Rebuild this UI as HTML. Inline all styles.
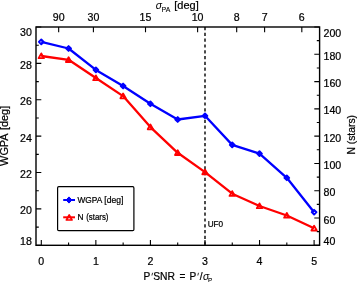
<!DOCTYPE html><html><head><meta charset="utf-8"><style>html,body{margin:0;padding:0;background:#fff;}body{width:357px;height:284px;overflow:hidden;font-family:"Liberation Sans",sans-serif;}</style></head><body><svg width="357" height="284" viewBox="0 0 357 284" style="display:block;will-change:transform;font-family:'Liberation Sans',sans-serif;">
<rect width="357" height="284" fill="#fff"/><style>text{stroke:#000;stroke-width:0.22px;}</style>
<line x1="205" y1="27.0" x2="205" y2="245.3" stroke="#000" stroke-width="1.4" stroke-dasharray="3.2 2.6"/>
<path d="M41.30 245.3V240.0M95.86 245.3V240.0M150.42 245.3V240.0M204.98 245.3V240.0M259.54 245.3V240.0M314.10 245.3V240.0M68.58 245.3V242.5M123.14 245.3V242.5M177.70 245.3V242.5M232.26 245.3V242.5M286.82 245.3V242.5M58.67 27.0V32.3M93.40 27.0V32.3M145.51 27.0V32.3M197.61 27.0V32.3M236.69 27.0V32.3M264.61 27.0V32.3M301.82 27.0V32.3M36.0 245.30H41.3M36.0 227.11H38.8M36.0 208.92H41.3M36.0 190.72H38.8M36.0 172.53H41.3M36.0 154.34H38.8M36.0 136.15H41.3M36.0 117.96H38.8M36.0 99.77H41.3M36.0 81.58H38.8M36.0 63.38H41.3M36.0 45.19H38.8M36.0 27.00H41.3M319.6 245.30H314.3M319.6 231.66H316.8M319.6 218.01H314.3M319.6 204.37H316.8M319.6 190.73H314.3M319.6 177.08H316.8M319.6 163.44H314.3M319.6 149.79H316.8M319.6 136.15H314.3M319.6 122.51H316.8M319.6 108.86H314.3M319.6 95.22H316.8M319.6 81.58H314.3M319.6 67.93H316.8M319.6 54.29H314.3M319.6 40.64H316.8M319.6 27.00H314.3" stroke="#000" stroke-width="1.1" fill="none"/>
<rect x="36.0" y="27.0" width="283.6" height="218.3" fill="none" stroke="#000" stroke-width="1.4"/>
<polyline points="41.3,56.0 68.6,59.8 95.9,78 123.1,96.1 150.4,127.1 177.7,152.8 205,172.1 232.2,193.7 259.5,206 286.8,215.5 314.1,228.3" fill="none" stroke="#ff0000" stroke-width="2.3" stroke-linejoin="round"/>
<path d="M41.3 53.4L44.0 58.2H38.599999999999994Z" fill="none" stroke="#ff0000" stroke-width="1.8" stroke-linejoin="round"/>
<path d="M68.6 57.199999999999996L71.3 62.0H65.89999999999999Z" fill="none" stroke="#ff0000" stroke-width="1.8" stroke-linejoin="round"/>
<path d="M95.9 75.4L98.60000000000001 80.2H93.2Z" fill="none" stroke="#ff0000" stroke-width="1.8" stroke-linejoin="round"/>
<path d="M123.1 93.5L125.8 98.3H120.39999999999999Z" fill="none" stroke="#ff0000" stroke-width="1.8" stroke-linejoin="round"/>
<path d="M150.4 124.5L153.1 129.29999999999998H147.70000000000002Z" fill="none" stroke="#ff0000" stroke-width="1.8" stroke-linejoin="round"/>
<path d="M177.7 150.20000000000002L180.39999999999998 155.0H175.0Z" fill="none" stroke="#ff0000" stroke-width="1.8" stroke-linejoin="round"/>
<path d="M205 169.5L207.7 174.29999999999998H202.3Z" fill="none" stroke="#ff0000" stroke-width="1.8" stroke-linejoin="round"/>
<path d="M232.2 191.1L234.89999999999998 195.89999999999998H229.5Z" fill="none" stroke="#ff0000" stroke-width="1.8" stroke-linejoin="round"/>
<path d="M259.5 203.4L262.2 208.2H256.8Z" fill="none" stroke="#ff0000" stroke-width="1.8" stroke-linejoin="round"/>
<path d="M286.8 212.9L289.5 217.7H284.1Z" fill="none" stroke="#ff0000" stroke-width="1.8" stroke-linejoin="round"/>
<path d="M314.1 225.70000000000002L316.8 230.5H311.40000000000003Z" fill="none" stroke="#ff0000" stroke-width="1.8" stroke-linejoin="round"/>
<polyline points="41.3,41.9 68.6,48.5 95.9,69.9 123.1,86.0 150.4,103.8 177.7,119.5 205.0,115.8 232.2,144.9 259.5,153.6 286.8,177.8 314.1,212.2" fill="none" stroke="#0000ff" stroke-width="2.3" stroke-linejoin="round"/>
<path d="M41.3 39.5L43.699999999999996 41.9L41.3 44.3L38.9 41.9Z" fill="none" stroke="#0000ff" stroke-width="1.9" stroke-linejoin="round"/>
<path d="M68.6 46.1L71.0 48.5L68.6 50.9L66.19999999999999 48.5Z" fill="none" stroke="#0000ff" stroke-width="1.9" stroke-linejoin="round"/>
<path d="M95.9 67.5L98.30000000000001 69.9L95.9 72.30000000000001L93.5 69.9Z" fill="none" stroke="#0000ff" stroke-width="1.9" stroke-linejoin="round"/>
<path d="M123.1 83.6L125.5 86.0L123.1 88.4L120.69999999999999 86.0Z" fill="none" stroke="#0000ff" stroke-width="1.9" stroke-linejoin="round"/>
<path d="M150.4 101.39999999999999L152.8 103.8L150.4 106.2L148.0 103.8Z" fill="none" stroke="#0000ff" stroke-width="1.9" stroke-linejoin="round"/>
<path d="M177.7 117.1L180.1 119.5L177.7 121.9L175.29999999999998 119.5Z" fill="none" stroke="#0000ff" stroke-width="1.9" stroke-linejoin="round"/>
<path d="M205.0 113.39999999999999L207.4 115.8L205.0 118.2L202.6 115.8Z" fill="none" stroke="#0000ff" stroke-width="1.9" stroke-linejoin="round"/>
<path d="M232.2 142.5L234.6 144.9L232.2 147.3L229.79999999999998 144.9Z" fill="none" stroke="#0000ff" stroke-width="1.9" stroke-linejoin="round"/>
<path d="M259.5 151.2L261.9 153.6L259.5 156.0L257.1 153.6Z" fill="none" stroke="#0000ff" stroke-width="1.9" stroke-linejoin="round"/>
<path d="M286.8 175.4L289.2 177.8L286.8 180.20000000000002L284.40000000000003 177.8Z" fill="none" stroke="#0000ff" stroke-width="1.9" stroke-linejoin="round"/>
<path d="M314.1 209.79999999999998L316.5 212.2L314.1 214.6L311.70000000000005 212.2Z" fill="none" stroke="#0000ff" stroke-width="1.9" stroke-linejoin="round"/>
<text x="41.30" y="264.6" font-size="10.6" text-anchor="middle">0</text>
<text x="95.86" y="264.6" font-size="10.6" text-anchor="middle">1</text>
<text x="150.42" y="264.6" font-size="10.6" text-anchor="middle">2</text>
<text x="204.98" y="264.6" font-size="10.6" text-anchor="middle">3</text>
<text x="259.54" y="264.6" font-size="10.6" text-anchor="middle">4</text>
<text x="314.10" y="264.6" font-size="10.6" text-anchor="middle">5</text>
<text x="58.67" y="21" font-size="10.6" text-anchor="middle">90</text>
<text x="93.40" y="21" font-size="10.6" text-anchor="middle">30</text>
<text x="145.51" y="21" font-size="10.6" text-anchor="middle">15</text>
<text x="197.61" y="21" font-size="10.6" text-anchor="middle">10</text>
<text x="236.69" y="21" font-size="10.6" text-anchor="middle">8</text>
<text x="264.61" y="21" font-size="10.6" text-anchor="middle">7</text>
<text x="301.82" y="21" font-size="10.6" text-anchor="middle">6</text>
<text x="31.8" y="245.00" font-size="10.6" text-anchor="end">18</text>
<text x="31.8" y="214.32" font-size="10.6" text-anchor="end">20</text>
<text x="31.8" y="177.93" font-size="10.6" text-anchor="end">22</text>
<text x="31.8" y="141.55" font-size="10.6" text-anchor="end">24</text>
<text x="31.8" y="105.17" font-size="10.6" text-anchor="end">26</text>
<text x="31.8" y="68.78" font-size="10.6" text-anchor="end">28</text>
<text x="31.8" y="36.00" font-size="10.6" text-anchor="end">30</text>
<text x="323.5" y="245.00" font-size="10.6">40</text>
<text x="323.5" y="223.61" font-size="10.6">60</text>
<text x="323.5" y="196.33" font-size="10.6">80</text>
<text x="323.5" y="169.04" font-size="10.6">100</text>
<text x="323.5" y="141.75" font-size="10.6">120</text>
<text x="323.5" y="114.46" font-size="10.6">140</text>
<text x="323.5" y="87.18" font-size="10.6">160</text>
<text x="323.5" y="59.89" font-size="10.6">180</text>
<text x="323.5" y="36.60" font-size="10.6">200</text>
<text transform="translate(7.7,165.9) rotate(-90)" font-size="10.9">WGPA</text>
<text transform="translate(7.7,105.8) rotate(-90)" font-size="10.9" text-anchor="end">[deg]</text>
<text transform="translate(354.8,154.5) rotate(-90)" font-size="10.3">N (stars)</text>
<g font-size="10.1"><text x="143.4" y="280.3">P</text><text x="153.2" y="280.3" font-size="10.3">SNR</text><text x="179.4" y="280.3">=</text><text x="189.5" y="280.3">P</text><text x="199.7" y="280.3">/</text><text x="203.0" y="280.3" font-style="italic" font-size="10.3" style="stroke-width:0.05px">σ</text><text x="208.0" y="282.3" font-size="6.2" style="stroke-width:0.1px">P</text></g>
<path d="M152.6 272.8L151.9 275.5M198.5 272.8L197.8 275.5" stroke="#000" stroke-width="0.8" fill="none"/>
<g font-size="10.6"><text x="155.8" y="8.8" font-style="italic" font-size="10.3" style="stroke-width:0.05px">σ</text><text x="161.6" y="12.1" font-size="6.9" style="stroke-width:0.1px">PA</text><text x="174.3" y="9" font-size="11">[deg]</text></g>
<text x="207.7" y="227.2" font-size="8.2">UF0</text>
<rect x="57.6" y="186.7" width="76.3" height="44" rx="1.2" fill="#fff" stroke="#000" stroke-width="1.2"/>
<line x1="63.2" y1="200.0" x2="75" y2="200.0" stroke="#0000ff" stroke-width="2"/>
<path d="M69.0 196.9L71.9 200.0L69.0 203.1L66.1 200.0Z" fill="#0000ff" stroke="#0000ff" stroke-width="1" stroke-linejoin="round"/>
<text x="77.5" y="203" font-size="8.3">WGPA</text><text x="104.3" y="203" font-size="8.55">[deg]</text>
<line x1="63.2" y1="217.3" x2="75" y2="217.3" stroke="#ff0000" stroke-width="2"/>
<path d="M69.2 215.0L72.0 220.0H66.4Z" fill="none" stroke="#ff0000" stroke-width="1.7" stroke-linejoin="round"/>
<text x="77.5" y="219.8" font-size="8.3">N</text><text x="86.2" y="219.8" font-size="8.4" textLength="22.3" lengthAdjust="spacingAndGlyphs">(stars)</text>
</svg></body></html>
